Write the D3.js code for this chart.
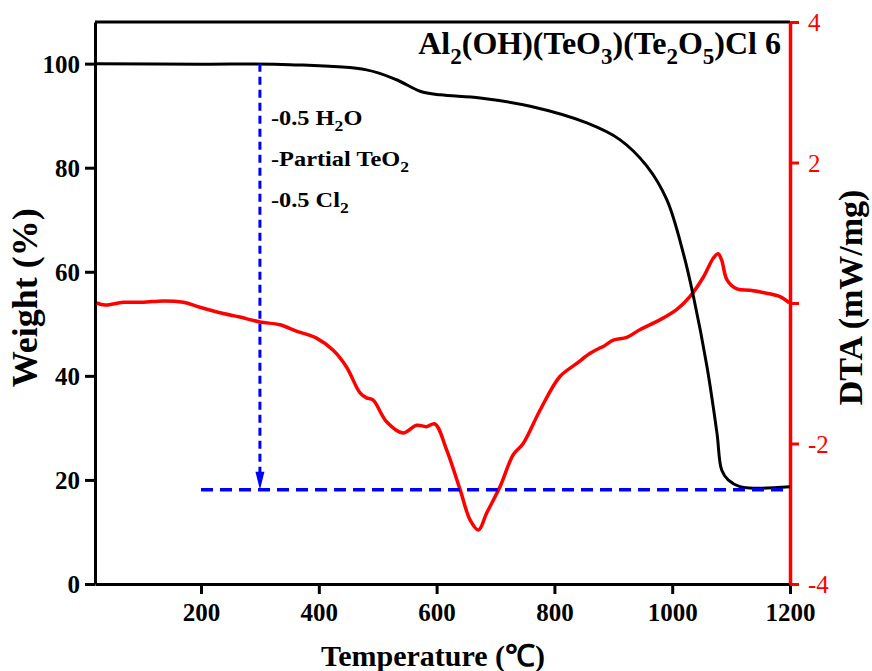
<!DOCTYPE html>
<meta charset="utf-8">
<script src="https://d3js.org/d3.v7.min.js"></script>
<style>
  body { margin: 0; background: #fff; }
  text { font-family: "Times New Roman", "Liberation Serif", serif; }
</style>
<body>
<script>

// TG curve (weight %)
var tgTemp   = [20, 198, 351, 481, 532, 572, 606, 674, 759, 855, 911, 957, 991, 1019, 1036, 1059, 1076, 1084, 1095, 1115, 1143, 1200];
var tgWeight = [100, 99.9, 99.8, 98.8, 96.9, 94.7, 94.0, 93.4, 91.8, 88.6, 85.4, 80.3, 73.8, 63.5, 55.3, 41.8, 29.0, 21.9, 20.0, 18.7, 18.4, 18.7];

// DTA curve (mW/mg)
var dtaTemp  = [23, 37, 68, 102, 136, 170, 198, 238, 266, 300, 334, 362, 396, 424, 447, 470, 481, 492, 515, 543, 566, 583, 597, 617, 640, 657, 671, 685, 708, 730, 747, 776, 809, 838, 860, 877, 883, 900, 923, 945, 979, 1008, 1030, 1053, 1070, 1078, 1084, 1093, 1110, 1132, 1160, 1183, 1199];
var dtaValue = [0.00, -0.03, 0.01, 0.01, 0.03, 0.01, -0.06, -0.15, -0.20, -0.27, -0.31, -0.40, -0.50, -0.67, -0.91, -1.28, -1.35, -1.38, -1.69, -1.85, -1.74, -1.76, -1.72, -2.09, -2.66, -3.09, -3.23, -2.99, -2.61, -2.16, -2.00, -1.52, -1.05, -0.86, -0.72, -0.64, -0.62, -0.53, -0.49, -0.38, -0.24, -0.09, 0.09, 0.37, 0.64, 0.70, 0.61, 0.33, 0.20, 0.18, 0.14, 0.09, 0.00];

var xTicks     = [200, 400, 600, 800, 1000, 1200];
var leftTicks  = [0, 20, 40, 60, 80, 100];
var rightTicks = [-4, -2, 0, 2, 4];
var rightLabels = ["-4", "-2", "", "2", "4"];

// dashed guide: from 100 % at 300 °C down to the residue level
var guideTemp = 300, guideTop = 100, guideLevel = 18.1, guideStart = 200, guideEnd = 1200;

var width = 872, height = 671;
var margin = {left: 95, right: 82, top: 22, bottom: 87};
var serif = "'Times New Roman', 'Liberation Serif', serif";

var svg = d3.select("body").append("svg")
    .attr("width", width)
    .attr("height", height);

var x = d3.scaleLinear().domain([20, 1200]).range([margin.left, width - margin.right]);
var yW = d3.scaleLinear().domain([0, 108]).range([height - margin.bottom, margin.top]);
var yD = d3.scaleLinear().domain([-4, 4]).range([height - margin.bottom, margin.top]);

// text with subscripts: parts like ["Al", ["2"], "(OH)"]
function richText(sel, parts, size) {
    var shift = 0;
    parts.forEach(function(p) {
        var sub = typeof p !== "string";
        var target = sub ? size * 0.3 : 0;
        sel.append("tspan")
            .attr("font-size", sub ? size * 0.72 : size)
            .attr("dy", target - shift)
            .text(sub ? p[0] : p);
        shift = target;
    });
}

// top frame line
svg.append("line")
    .attr("x1", x(20)).attr("x2", x(1200))
    .attr("y1", margin.top).attr("y2", margin.top)
    .attr("stroke", "#000").attr("stroke-width", 3);

// bottom axis
var gx = svg.append("g")
    .attr("transform", "translate(0," + yW(0) + ")")
    .call(d3.axisBottom(x).tickValues(xTicks).tickSize(10).tickPadding(8).tickSizeOuter(0)
        .tickFormat(d3.format("d")));

// left axis
var gl = svg.append("g")
    .attr("transform", "translate(" + x(20) + ",0)")
    .call(d3.axisLeft(yW).tickValues(leftTicks).tickSize(10).tickPadding(5).tickSizeOuter(0));

[gx, gl].forEach(function(g) {
    g.select(".domain").attr("stroke", "#000").attr("stroke-width", 3);
    g.selectAll(".tick line").attr("stroke", "#000").attr("stroke-width", 3);
    g.selectAll(".tick text")
        .attr("font-family", serif)
        .attr("font-weight", "bold").attr("font-size", 25).attr("fill", "#000");
});
gx.selectAll(".tick text").attr("dy", "0.75em");
gl.selectAll(".tick text").attr("dy", "0.35em");

// right DTA axis in red
var gr = svg.append("g")
    .attr("transform", "translate(" + x(1200) + ",0)")
    .call(d3.axisRight(yD).tickValues(rightTicks).tickSize(9).tickPadding(9).tickSizeOuter(0)
        .tickFormat(function(d, i) { return rightLabels[i]; }));
gr.select(".domain").attr("stroke", "#ff0000").attr("stroke-width", 3.5);
gr.selectAll(".tick line").attr("stroke", "#ff0000").attr("stroke-width", 3);
gr.selectAll(".tick text")
    .attr("font-family", serif)
    .attr("font-size", 25).attr("fill", "#ff0000").attr("dy", "0.35em");

// DTA curve
var dtaLine = d3.line()
    .x(function(d, i) { return x(dtaTemp[i]); })
    .y(function(d, i) { return yD(dtaValue[i]); })
    .curve(d3.curveCatmullRom.alpha(0.5));
svg.append("path")
    .attr("d", dtaLine(dtaTemp))
    .attr("fill", "none").attr("stroke", "#ff0000").attr("stroke-width", 3.5)
    .attr("stroke-linejoin", "round");

// TG curve
var tgLine = d3.line()
    .x(function(d, i) { return x(tgTemp[i]); })
    .y(function(d, i) { return yW(tgWeight[i]); })
    .curve(d3.curveCatmullRom.alpha(0.5));
svg.append("path")
    .attr("d", tgLine(tgTemp))
    .attr("fill", "none").attr("stroke", "#000").attr("stroke-width", 3)
    .attr("stroke-linejoin", "round");

// blue dashed guides
svg.append("line")
    .attr("x1", x(guideStart)).attr("x2", x(guideEnd))
    .attr("y1", yW(guideLevel)).attr("y2", yW(guideLevel))
    .attr("stroke", "#0000ff").attr("stroke-width", 3.5)
    .attr("stroke-dasharray", "12,7");
svg.append("line")
    .attr("x1", x(guideTemp)).attr("x2", x(guideTemp))
    .attr("y1", yW(guideTop)).attr("y2", yW(guideLevel) - 16)
    .attr("stroke", "#0000ff").attr("stroke-width", 3)
    .attr("stroke-dasharray", "8,5");
var ax = x(guideTemp), ay = yW(guideLevel);
svg.append("path")
    .attr("d", "M" + (ax - 4.5) + "," + (ay - 18) + "L" + (ax + 4.5) + "," + (ay - 18) + "L" + ax + "," + ay + "Z")
    .attr("fill", "#0000ff");

// annotation text (drawn a bit wide, like the original)
var notes = [
    ["-0.5 H", ["2"], "O"],
    ["-Partial TeO", ["2"]],
    ["-0.5 Cl", ["2"]]
];
notes.forEach(function(n, i) {
    var t = svg.append("text")
        .attr("transform", "translate(" + (x(guideTemp) + 11) + "," + (125 + i * 41) + ") scale(1.22,1)")
        .attr("font-weight", "bold");
    richText(t, n, 20);
});

// sample label
var title = svg.append("text")
    .attr("x", x(1200) - 9)
    .attr("y", 54)
    .attr("text-anchor", "end")
    .attr("font-weight", "bold");
richText(title, ["Al", ["2"], "(OH)(TeO", ["3"], ")(Te", ["2"], "O", ["5"], ")Cl 6"], 32);

// axis titles
svg.append("text")
    .attr("x", 433)
    .attr("y", 666)
    .attr("text-anchor", "middle")
    .attr("font-weight", "bold").attr("font-size", 30)
    .text("Temperature (\u2103)");

svg.append("text")
    .attr("transform", "translate(37," + yW(55) + ") rotate(-90)")
    .attr("text-anchor", "middle")
    .attr("font-weight", "bold").attr("font-size", 36)
    .text("Weight (%)");

svg.append("text")
    .attr("transform", "translate(862," + yD(0.08) + ") rotate(-90)")
    .attr("text-anchor", "middle")
    .attr("font-weight", "bold").attr("font-size", 34)
    .text("DTA (mW/mg)");

</script>
</body>
